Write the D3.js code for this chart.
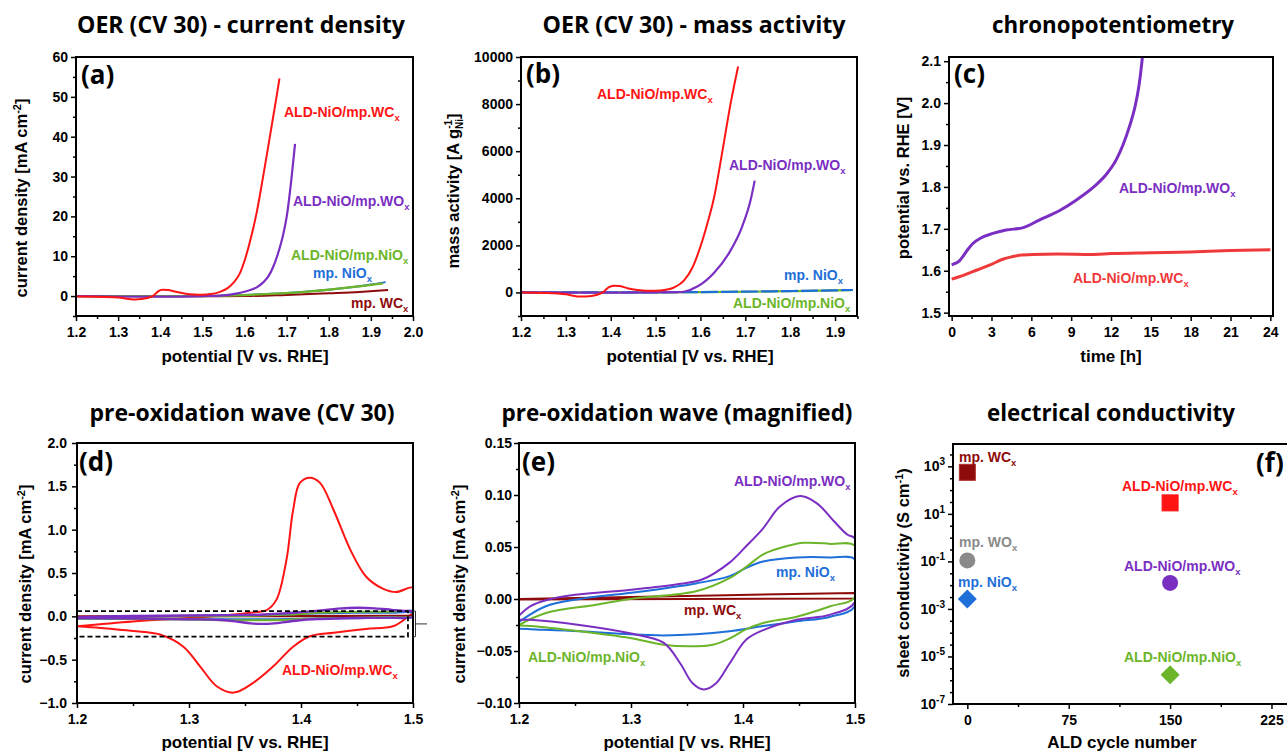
<!DOCTYPE html>
<html><head><meta charset="utf-8">
<script src="https://cdn.jsdelivr.net/npm/d3@7"></script>
<style>
body{margin:0;background:#fff;}
svg{display:block;font-family:Arial,"Liberation Sans",sans-serif;}
.tick text{font-weight:bold;font-size:14px;fill:#000;font-family:Arial,"Liberation Sans",sans-serif;}
.tick line{stroke:#000;stroke-width:1.5;}
</style></head><body>
<svg id="c" width="1287" height="753"></svg>
<script>
// ---------------- DATA ----------------
// (a) OER current density [mA cm-2] vs potential [V]
const aRed    = [[1.2,-0.1],[1.25,-0.15],[1.3,-0.35],[1.34,-0.85],[1.37,-0.5],[1.385,0.2],[1.395,1.2],[1.405,1.6],[1.42,1.5],[1.44,1.0],[1.46,0.6],[1.48,0.4],[1.5,0.35],[1.52,0.5],[1.54,1.0],[1.56,2.0],[1.575,3.5],[1.588,5.5],[1.602,9.5],[1.615,14.5],[1.629,21],[1.645,30.5],[1.661,40.5],[1.676,50],[1.683,54.6]];
const aPurple = [[1.2,0],[1.3,-0.1],[1.4,-0.15],[1.5,0],[1.55,0.2],[1.58,0.6],[1.6,1.1],[1.629,2.2],[1.645,3.5],[1.657,5],[1.668,7.3],[1.679,10.5],[1.692,15.5],[1.701,20.5],[1.712,30],[1.72,38.2]];
const aGreen  = [[1.2,0],[1.5,0],[1.533,0.05],[1.6,0.25],[1.675,0.6],[1.75,1.1],[1.834,2.0],[1.9,2.8],[1.929,3.2]];
const aBlue   = [[1.2,0],[1.5,0],[1.6,0.3],[1.7,0.8],[1.8,1.6],[1.9,2.9],[1.935,3.5]];
const aDarkRed= [[1.2,0],[1.5,-0.05],[1.6,0],[1.7,0.3],[1.755,0.5],[1.8,0.7],[1.873,1.05],[1.924,1.4],[1.941,1.5]];
// (b) OER mass activity [A g-1]
const bRed    = [[1.2,0],[1.25,-20],[1.3,-80],[1.325,-170],[1.345,-170],[1.37,-100],[1.385,40],[1.395,220],[1.407,290],[1.42,270],[1.44,170],[1.46,100],[1.48,70],[1.5,70],[1.52,100],[1.54,200],[1.563,500],[1.582,1050],[1.6,1950],[1.615,2900],[1.63,4000],[1.649,6000],[1.667,8000],[1.684,9600]];
const bPurple = [[1.2,0],[1.4,-10],[1.55,10],[1.563,30],[1.593,250],[1.63,830],[1.664,1680],[1.693,2800],[1.712,3935],[1.721,4750]];
const bGreen  = [[1.2,0],[1.5,3],[1.6,12],[1.7,30],[1.8,55],[1.9,85],[1.935,100]];
const bBlue   = [[1.2,0],[1.5,5],[1.6,15],[1.7,35],[1.8,60],[1.9,90],[1.94,105]];
// (c) chronopotentiometry: time [h], potential [V]
const cPurpleT = [0,0.3,0.6,0.8,1.2,1.6,2.2,3.1,4.1,5.4,6.6,8.2,9.4,10.7,11.7,12.4,12.9,13.4,13.8,14.1,14.3,14.45];
const cPurpleV = [1.614,1.618,1.624,1.632,1.650,1.665,1.678,1.689,1.697,1.703,1.721,1.745,1.769,1.800,1.832,1.865,1.900,1.945,1.990,2.040,2.090,2.140];
const cRedT = [0,0.5,1.6,2.9,3.9,4.5,5.1,6.1,8,10.5,12,15,18,21,24];
const cRedV = [1.580,1.585,1.598,1.614,1.628,1.633,1.637,1.639,1.640,1.639,1.641,1.643,1.645,1.648,1.650];
// (d)/(e) cyclic voltammograms (forward then reverse scan)
const cvRed = [[1.2,-0.115],[1.25,-0.06],[1.3,-0.02],[1.34,0.02],[1.36,0.05],[1.369,0.07],[1.378,0.19],[1.387,0.65],[1.393,1.23],[1.399,1.54],[1.408,1.6],[1.417,1.54],[1.429,1.23],[1.444,0.77],[1.458,0.46],[1.473,0.32],[1.485,0.28],[1.5,0.33],
  [1.5,0.05],[1.494,-0.02],[1.482,-0.115],[1.458,-0.146],[1.429,-0.19],[1.408,-0.23],[1.393,-0.35],[1.375,-0.58],[1.357,-0.77],[1.34,-0.88],[1.325,-0.81],[1.31,-0.58],[1.295,-0.35],[1.274,-0.21],[1.25,-0.17],[1.221,-0.135],[1.2,-0.115]];
const cvPurple = [[1.2,-0.016],[1.21,-0.007],[1.225,-0.001],[1.25,0.004],[1.3,0.009],[1.34,0.014],[1.364,0.019],[1.388,0.035],[1.403,0.051],[1.418,0.068],[1.433,0.089],[1.451,0.099],[1.466,0.092],[1.481,0.075],[1.493,0.062],[1.5,0.058],
  [1.5,-0.003],[1.478,-0.015],[1.448,-0.02],[1.418,-0.03],[1.403,-0.039],[1.388,-0.062],[1.376,-0.081],[1.365,-0.087],[1.355,-0.081],[1.344,-0.062],[1.329,-0.042],[1.299,-0.033],[1.254,-0.025],[1.21,-0.02],[1.2,-0.02]];
const cvGreen = [[1.2,-0.025],[1.224,-0.0135],[1.269,-0.0055],[1.299,0.0],[1.358,0.0074],[1.388,0.02],[1.403,0.031],[1.418,0.043],[1.433,0.049],[1.454,0.054],[1.478,0.053],[1.5,0.051],
  [1.5,0.002],[1.478,-0.007],[1.448,-0.017],[1.418,-0.023],[1.403,-0.029],[1.388,-0.038],[1.373,-0.044],[1.352,-0.0455],[1.329,-0.044],[1.299,-0.0375],[1.254,-0.031],[1.21,-0.026],[1.2,-0.0255]];
const cvBlue = [[1.2,-0.022],[1.224,-0.007],[1.254,0.0],[1.3,0.006],[1.358,0.015],[1.388,0.022],[1.403,0.03],[1.418,0.036],[1.448,0.04],[1.478,0.04],[1.5,0.038],
  [1.5,-0.007],[1.478,-0.017],[1.448,-0.0215],[1.418,-0.026],[1.388,-0.031],[1.358,-0.034],[1.329,-0.035],[1.299,-0.034],[1.254,-0.031],[1.21,-0.029],[1.2,-0.0285]];
const cvDarkRed = [[1.2,0.0],[1.35,0.003],[1.5,0.0058],[1.5,0.0006],[1.35,0.0],[1.2,-0.0006]];
const zoomBox = {x0:1.2, x1:1.4955, y0:-0.235, y1:0.06};
// (f) sheet conductivity
const fNames  = ["mp. WC","ALD-NiO/mp.WC","mp. WO","ALD-NiO/mp.WO","mp. NiO","ALD-NiO/mp.NiO"];
const fCycles = [0,150,0,150,0,150];
const fSigma  = [560,29,0.11,0.0124,0.0026,1.7e-6];
const fShapes = ["square","square","circle","circle","diamond","diamond"];
// tick values
const aXT=[1.2,1.3,1.4,1.5,1.6,1.7,1.8,1.9,2.0], aYT=[0,10,20,30,40,50,60];
const bXT=[1.2,1.3,1.4,1.5,1.6,1.7,1.8,1.9], bYT=[0,2000,4000,6000,8000,10000];
const cXT=[0,3,6,9,12,15,18,21,24], cYT=[1.5,1.6,1.7,1.8,1.9,2.0,2.1];
const dXT=[1.2,1.3,1.4,1.5], dYT=[-1.0,-0.5,0.0,0.5,1.0,1.5,2.0];
const eXT=[1.2,1.3,1.4,1.5], eYT=[-0.10,-0.05,0.00,0.05,0.10,0.15];
const fXT=[0,75,150,225], fYExp=[-7,-5,-3,-1,1,3];

// ---------------- STYLE ----------------
const C = {red:"#ff1414", purple:"#7a2fc2", green:"#6cb52a", blue:"#1f6fd8", darkred:"#8e0b0b", grey:"#8a8a8a", cred:"#ee3a3a"};
const svg = d3.select("#c");

function panel(p){
  const x = d3.scaleLinear().domain(p.xd).range([p.L,p.R]);
  const y = (p.log?d3.scaleLog():d3.scaleLinear()).domain(p.yd).range([p.B,p.T]);
  svg.append("clipPath").attr("id","clip"+p.id).append("rect")
    .attr("x",p.L).attr("y",p.T).attr("width",p.R-p.L).attr("height",p.B-p.T);
  const g = svg.append("g");
  const plot = g.append("g").attr("clip-path",`url(#clip${p.id})`);
  g.append("g").attr("transform",`translate(0,${p.B})`)
    .call(d3.axisBottom(x).tickValues(p.xm).tickSize(3).tickFormat(""))
    .call(s=>s.select(".domain").remove());
  g.append("g").attr("transform",`translate(${p.L},0)`)
    .call(d3.axisLeft(y).tickValues(p.ym).tickSize(3).tickFormat(""))
    .call(s=>s.select(".domain").remove());
  g.append("g").attr("transform",`translate(0,${p.B})`)
    .call(d3.axisBottom(x).tickValues(p.xt).tickSize(5).tickPadding(6).tickFormat(p.xf))
    .call(s=>s.select(".domain").remove());
  const ya = g.append("g").attr("transform",`translate(${p.L},0)`)
    .call(d3.axisLeft(y).tickValues(p.yt).tickSize(5).tickPadding(p.yp||3).tickFormat(p.yf))
    .call(s=>s.select(".domain").remove());
  return {g,plot,x,y,ya,p};
}
function frame(P){
  const p=P.p;
  P.g.append("rect").attr("x",p.L).attr("y",p.T).attr("width",p.R-p.L).attr("height",p.B-p.T)
    .attr("fill","none").attr("stroke","#000").attr("stroke-width",2);
}
function curve(P,data,color,w,opt){
  opt = opt||{};
  const cf = opt.curve || d3.curveCatmullRom.alpha(0.5);
  const line = d3.line().x(d=>P.x(d[0])).y(d=>P.y(d[1])).curve(cf);
  const path = P.plot.append("path").attr("d",line(data)).attr("fill","none")
    .attr("stroke",color).attr("stroke-width",w).attr("stroke-linejoin","round");
  if(opt.dash) path.attr("stroke-dasharray",opt.dash);
  return path;
}
const MONO = {curve:d3.curveMonotoneX};
function label(x,y,main,color,sub){
  const t = svg.append("text").attr("x",x).attr("y",y).attr("fill",color)
    .attr("font-weight","bold").attr("font-size",14);
  t.append("tspan").text(main);
  if(sub) t.append("tspan").attr("dy",4).attr("font-size",9.5).text(sub);
  return t;
}
function title(cx,y,txt,w){
  svg.append("text").attr("x",cx).attr("y",y).attr("text-anchor","middle")
    .attr("font-family","'Open Sans',sans-serif").attr("font-weight","bold").attr("font-size",24)
    .attr("textLength",w).attr("lengthAdjust","spacingAndGlyphs").text(txt);
}
function plabel(x,y,txt){
  svg.append("text").attr("x",x).attr("y",y).attr("font-family","'Open Sans',sans-serif")
    .attr("font-weight","bold").attr("font-size",26).text(txt);
}
function xtitle(cx,y,txt){
  svg.append("text").attr("x",cx).attr("y",y).attr("text-anchor","middle")
    .attr("font-weight","bold").attr("font-size",17).text(txt);
}
function ytitle(x,cy,parts){
  const t = svg.append("text").attr("x",x).attr("y",cy).attr("text-anchor","middle")
    .attr("transform",`rotate(-90,${x},${cy})`).attr("font-weight","bold").attr("font-size",16.5);
  parts.forEach(pt=>{
    const s=t.append("tspan").text(pt.t);
    if(pt.dy!==undefined) s.attr("dy",pt.dy);
    if(pt.dx!==undefined) s.attr("dx",pt.dx);
    if(pt.fs) s.attr("font-size",pt.fs);
  });
}
const range = (a,b,s)=>d3.range(Math.round((b-a)/s)+1).map(i=>+(a+i*s).toFixed(6));
const f1 = d3.format(".1f"), f2 = d3.format(".2f");

// ---------------- (a) ----------------
const A = panel({id:"a",L:76,R:413,T:57,B:316,xd:[1.2,2.0],yd:[-5,60],
  xt:aXT,xm:range(1.25,1.95,0.1),yt:aYT,ym:range(-5,55,10),xf:f1,yf:d3.format("d"),yp:3});
curve(A,aBlue,C.blue,2,MONO); curve(A,aDarkRed,C.darkred,2,MONO); curve(A,aGreen,C.green,2.2,MONO);
curve(A,aPurple,C.purple,2.2,MONO); curve(A,aRed,C.red,2,MONO);
frame(A);
// ---------------- (b) ----------------
const B = panel({id:"b",L:521,R:857,T:57,B:316,xd:[1.2,1.949],yd:[-1000,10000],
  xt:bXT,xm:range(1.25,1.95,0.1),yt:bYT,ym:range(-1000,9000,2000),xf:f1,yf:d3.format("d"),yp:3});
curve(B,bGreen,C.green,2.2,MONO);
curve(B,bBlue,C.blue,2.2,{curve:d3.curveMonotoneX,dash:"17,3"});
curve(B,bPurple,C.purple,2.2,MONO); curve(B,bRed,C.red,2,MONO);
frame(B);
// ---------------- (c) ----------------
const Cc = panel({id:"c",L:949,R:1273,T:57,B:316,xd:[-0.2,24.2],yd:[1.492,2.11],
  xt:cXT,xm:range(1.5,22.5,3),yt:cYT,ym:range(1.55,2.05,0.1),xf:d3.format("d"),yf:f1,yp:3});
curve(Cc,cRedT.map((t,i)=>[t,cRedV[i]]),C.cred,3,MONO);
curve(Cc,cPurpleT.map((t,i)=>[t,cPurpleV[i]]),C.purple,3,MONO);
frame(Cc);
// ---------------- (d) ----------------
const D = panel({id:"d",L:77,R:413,T:443,B:703,xd:[1.2,1.5],yd:[-1,2],
  xt:dXT,xm:range(1.25,1.45,0.1),yt:dYT,ym:range(-0.75,1.75,0.5),xf:f1,yf:f1,yp:5});
curve(D,cvRed,C.red,2);
curve(D,cvDarkRed,C.darkred,2,{curve:d3.curveLinear}); curve(D,cvBlue,C.blue,2); curve(D,cvGreen,C.green,2); curve(D,cvPurple,C.purple,2.4);
D.g.append("rect").attr("x",D.x(zoomBox.x0)).attr("y",D.y(zoomBox.y1))
  .attr("width",D.x(zoomBox.x1)-D.x(zoomBox.x0)).attr("height",D.y(zoomBox.y0)-D.y(zoomBox.y1))
  .attr("fill","none").attr("stroke","#000").attr("stroke-width",1.8).attr("stroke-dasharray","5,3");
frame(D);
{
  const yt=D.y(zoomBox.y1), yb=D.y(zoomBox.y0), xr=D.p.R;
  D.g.append("path").attr("d",`M${xr},${yt}H${xr+2.5}V${yb}H${xr}M${xr+2.5},${(yt+yb)/2}H${xr+14}`)
    .attr("fill","none").attr("stroke","#333").attr("stroke-width",1);
}
// ---------------- (e) ----------------
const E = panel({id:"e",L:519,R:855,T:443,B:703,xd:[1.2,1.5],yd:[-0.1,0.15],
  xt:eXT,xm:range(1.25,1.45,0.1),yt:eYT,ym:range(-0.075,0.125,0.05),xf:f1,yf:f2,yp:2});
curve(E,cvDarkRed,C.darkred,2,{curve:d3.curveLinear}); curve(E,cvBlue,C.blue,2); curve(E,cvGreen,C.green,2); curve(E,cvPurple,C.purple,2);
frame(E);
// ---------------- (f) ----------------
const fMinor = d3.range(-13,8).map(i=>i/2).filter(e=>!(Number.isInteger(e)&&Math.abs(e)%2===1)).map(e=>Math.pow(10,e));
const F = panel({id:"f",L:953,R:1290,T:444,B:704,xd:[-10.6,238.7],yd:[1e-7,Math.pow(10,3.94)],log:true,
  xt:fXT,xm:[37.5,112.5,187.5],yt:fYExp.map(e=>Math.pow(10,e)),ym:fMinor,xf:d3.format("d"),yf:()=>"",yp:3});
F.ya.selectAll(".tick").each(function(d){
  const e = Math.round(Math.log10(d));
  const t = d3.select(this).select("text").text(null).attr("dy","0.32em");
  t.append("tspan").text("10");
  t.append("tspan").attr("dy",-6).attr("font-size",10).text(e);
});
const fColors=[C.darkred,C.red,C.grey,C.purple,C.blue,C.green];
fCycles.forEach((cyc,i)=>{
  const cx=F.x(cyc), cy=F.y(fSigma[i]);
  const sh=fShapes[i];
  if(sh==="square") F.plot.append("rect").attr("x",cx-8).attr("y",cy-8).attr("width",16).attr("height",16)
      .attr("fill",fColors[i]).attr("stroke",i===0?"#b03030":fColors[i]).attr("stroke-width",1);
  else if(sh==="circle") F.plot.append("circle").attr("cx",cx).attr("cy",cy).attr("r",8).attr("fill",fColors[i]);
  else F.plot.append("path").attr("d",`M${cx},${cy-9.5}L${cx+9.5},${cy}L${cx},${cy+9.5}L${cx-9.5},${cy}Z`).attr("fill",fColors[i]);
});
frame(F);

// ---------------- TEXT ----------------
title(241,33,"OER (CV 30) - current density",328);
title(694,33,"OER (CV 30) - mass activity",303);
title(1113,33,"chronopotentiometry",242);
title(242,421,"pre-oxidation wave (CV 30)",305);
title(677,421,"pre-oxidation wave (magnified)",351);
title(1111,421,"electrical conductivity",248);

plabel(81,84,"(a)"); plabel(526,83,"(b)"); plabel(954,83,"(c)");
plabel(79,471,"(d)"); plabel(522,471,"(e)"); plabel(1256,472,"(f)");

xtitle(245,362,"potential [V vs. RHE]");
xtitle(690,362,"potential [V vs. RHE]");
xtitle(1111,362,"time [h]");
xtitle(245,748,"potential [V vs. RHE]");
xtitle(687,748,"potential [V vs. RHE]");
xtitle(1122,748,"ALD cycle number");

ytitle(27,198,[{t:"current density [mA cm"},{t:"-2",dy:-6,fs:11},{t:"]",dy:6}]);
ytitle(459,191,[{t:"mass activity [A g"},{t:"-1",dy:-7,fs:10},{t:"Ni",dx:-9,dy:11,fs:10},{t:"]",dy:-4}]);
ytitle(909,178,[{t:"potential vs. RHE [V]"}]);
ytitle(31,584,[{t:"current density [mA cm"},{t:"-2",dy:-6,fs:11},{t:"]",dy:6}]);
ytitle(465,584,[{t:"current density [mA cm"},{t:"-2",dy:-6,fs:11},{t:"]",dy:6}]);
ytitle(909,573,[{t:"sheet conductivity (S cm"},{t:"-1",dy:-6,fs:11},{t:")",dy:6}]);

// curve labels
label(284,117,"ALD-NiO/mp.WC",C.red,"x");
label(293,206,"ALD-NiO/mp.WO",C.purple,"x");
label(291,260,"ALD-NiO/mp.NiO",C.green,"x");
label(313,278,"mp. NiO",C.blue,"x");
label(351,308,"mp. WC",C.darkred,"x");

label(597,99,"ALD-NiO/mp.WC",C.red,"x");
label(729,170,"ALD-NiO/mp.WO",C.purple,"x");
label(784,280,"mp. NiO",C.blue,"x");
label(733,308,"ALD-NiO/mp.NiO",C.green,"x");

label(1119,193,"ALD-NiO/mp.WO",C.purple,"x");
label(1073,283,"ALD-NiO/mp.WC",C.cred,"x");

label(282,675,"ALD-NiO/mp.WC",C.red,"x");

label(734,486,"ALD-NiO/mp.WO",C.purple,"x");
label(776,577,"mp. NiO",C.blue,"x");
label(684,615,"mp. WC",C.darkred,"x");
label(528,662,"ALD-NiO/mp.NiO",C.green,"x");

const fLabelPos=[[959,462],[1122,491],[959,547],[1124,571],[958,587],[1124,662]];
fNames.forEach((n,i)=>label(fLabelPos[i][0],fLabelPos[i][1],n,fColors[i],"x"));
</script>
</body></html>
